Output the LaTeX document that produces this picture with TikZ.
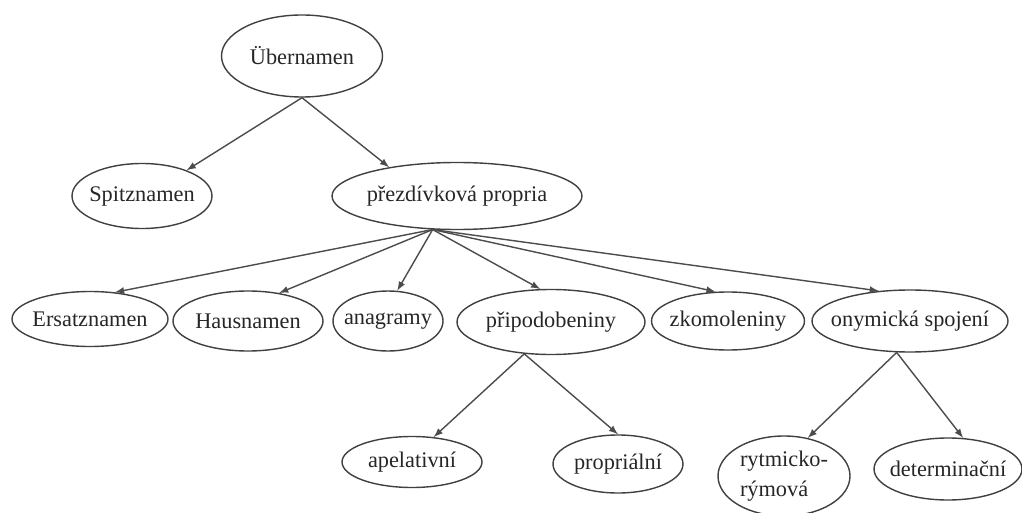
\documentclass[tikz,border=0pt]{standalone}
\usepackage{fontspec}
\setmainfont{Liberation Serif}
\usepackage{tikz}
\usetikzlibrary{shapes.geometric}

\begin{document}
\begin{tikzpicture}[>=latex, line width=0.8pt,
  nm/.style={ellipse, draw=black!75, text=black!85, inner xsep=-2mm, inner ysep=0pt,
    font=\fontsize{12.7}{15}\selectfont},
  ar/.style={->, draw=black!70}]
\useasboundingbox (0,0) rectangle (20.44,10.24);

\node[nm, minimum width=3.22cm, minimum height=1.64cm] (uber) at (6.04,9.12) {Übernamen};
\node[nm, minimum width=2.80cm, minimum height=1.30cm] (spitz) at (2.84,6.32) {Spitznamen};
\node[nm, minimum width=5.00cm, minimum height=1.34cm] (prez) at (9.14,6.32) {přezdívková propria};

\node[nm, minimum width=3.12cm, minimum height=1.10cm] (ersatz) at (1.80,3.86) {Ersatznamen};
\node[nm, minimum width=3.00cm, minimum height=1.20cm] (haus) at (4.96,3.82) {Hausnamen};
\node[nm, minimum width=2.20cm, minimum height=1.20cm] (anag) at (7.76,3.82) {anagramy};
\node[nm, minimum width=3.76cm, minimum height=1.30cm] (pripod) at (11.02,3.80) {připodobeniny};
\node[nm, minimum width=3.06cm, minimum height=1.16cm] (zkom) at (14.56,3.82) {zkomoleniny};
\node[nm, minimum width=3.92cm, minimum height=1.24cm] (onym) at (18.20,3.82) {onymická spojení};

\node[nm, minimum width=2.80cm, minimum height=1.02cm] (apel) at (8.24,1.00) {apelativní};
\node[nm, minimum width=2.60cm, minimum height=1.16cm] (propr) at (12.36,0.96) {propriální};
\node[nm, minimum width=2.64cm, minimum height=1.60cm, inner ysep=-3mm, align=left] (rytm) at (15.68,0.72) {rytmicko-\\[2pt]rýmová};
\node[nm, minimum width=2.96cm, minimum height=1.24cm] (deter) at (18.96,0.86) {determinační};

\draw[ar] (uber.south) -- (spitz.30);
\draw[ar] (uber.south) -- (prez.157);

% all six arrows leave one point
\coordinate (fan) at (prez.234);
\draw[ar] (fan) -- (ersatz.47);
\draw[ar] (fan) -- (haus.42);
\draw[ar] (fan) -- (anag.73);
\draw[ar] (fan) -- (pripod.108);
\draw[ar] (fan) -- (zkom.113);
\draw[ar] (fan) -- (onym.136);

\draw[ar] (pripod.230) -- (apel.49);
\draw[ar] (pripod.230) -- (propr.north);
\draw[ar] (onym.247) -- (rytm.58);
\draw[ar] (onym.247) -- (deter.64);
\end{tikzpicture}
\end{document}
